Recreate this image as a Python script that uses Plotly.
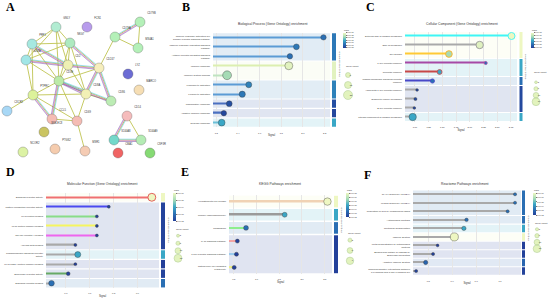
import math

import plotly.graph_objects as go
from plotly.colors import sample_colorscale

W, H = 550, 302
FONT = "Liberation Sans"
FDR_SCALE = [[0.0, "#233f99"], [0.25, "#2a6fb4"], [0.5, "#3aa7c6"],
             [0.75, "#a6dbb5"], [1.0, "#eef7c2"]]


def px(x):
    return x / W


def py(y):
    return 1 - y / H


# ── A: STRING network ────────────────────────────────────────────────────────
NODE_NAMES = ["GNLY", "FCN1", "CD79B", "CD79A", "MS4A1", "PRF1", "NKG7", "GZMA",
              "CD2", "CD247", "LYZ", "CD3E", "MARCO", "PTPRC", "CD8A", "CD86",
              "CXCR2", "CCL5", "CD69", "CD14", "SIGLEC8", "S100A8", "S100A9",
              "NCOR2", "PTGS2", "MSR1", "CMA1", "CSF3R"]
NODE_X = [56, 87, 140, 115, 138, 32, 70, 26, 68, 99, 128, 59, 139, 33, 86, 111,
          7, 52, 77, 127, 44, 114, 141, 23, 55, 85, 118, 150]
NODE_Y = [27, 27, 22, 37, 48, 44, 43, 60, 65, 68, 74, 81, 90, 95, 94, 101,
          111, 119, 121, 116, 132, 140, 140, 152, 149, 151, 153, 153]
EDGES = [("GNLY", "PRF1"), ("GNLY", "NKG7"), ("GNLY", "GZMA"), ("GNLY", "CD2"),
         ("GNLY", "CD3E"), ("PRF1", "NKG7"), ("PRF1", "GZMA"), ("PRF1", "CD2"),
         ("PRF1", "CD3E"), ("PRF1", "PTPRC"), ("NKG7", "GZMA"), ("NKG7", "CD2"),
         ("NKG7", "CD3E"), ("NKG7", "CD8A"), ("NKG7", "CD247"), ("GZMA", "CD2"),
         ("GZMA", "CD3E"), ("GZMA", "PTPRC"), ("CD2", "CD3E"), ("CD2", "CD247"),
         ("CD2", "CD8A"), ("CD247", "CD79A"), ("CD3E", "CD247"), ("CD3E", "CD8A"),
         ("CD3E", "CD86"), ("CD3E", "PTPRC"), ("CD3E", "CCL5"), ("CD3E", "CD69"),
         ("CD247", "CD8A"), ("CD247", "CD86"), ("CD79A", "CD79B"), ("CD79A", "MS4A1"),
         ("CD79B", "MS4A1"), ("CD8A", "CD86"), ("CD8A", "PTPRC"), ("CD8A", "CD69"),
         ("PTPRC", "CXCR2"), ("PTPRC", "CCL5"), ("PTPRC", "CD69"), ("CCL5", "CD69"),
         ("CD69", "MSR1"), ("CD14", "S100A8"), ("CD14", "S100A9"), ("S100A8", "S100A9")]
EDGES_MULTI = [("PRF1", "CD2"), ("GZMA", "CD2"), ("NKG7", "CD247"), ("CD2", "CD247"),
               ("CD3E", "CD8A"), ("CD247", "CD86"), ("CD3E", "CD86"), ("PTPRC", "CCL5"),
               ("CD3E", "CCL5"), ("CD79A", "CD79B"), ("S100A8", "S100A9"),
               ("CD14", "S100A8"), ("CD247", "CD8A")]

NODE_FILL = {"GNLY": "#b2ecd2", "FCN1": "#b89cec", "CD79B": "#b4f0b8", "CD79A": "#b4f0b8",
             "MS4A1": "#b4f0b8", "PRF1": "#a6e9e0", "NKG7": "#aeeac0", "GZMA": "#a2e6e6",
             "CD2": "#eef0b4", "CD247": "#f6eebc", "LYZ": "#6c6cd4", "CD3E": "#bceaa8",
             "MARCO": "#f6deb4", "PTPRC": "#dcf29a", "CD8A": "#f2f0b6", "CD86": "#bcecb4",
             "CXCR2": "#a8d8f6", "CCL5": "#f5bcb4", "CD69": "#f5bcb4", "CD14": "#f5bcbc",
             "SIGLEC8": "#cac462", "S100A8": "#74d8ca", "S100A9": "#b4ecb4",
             "NCOR2": "#dcf2a4", "PTGS2": "#f5ccae", "MSR1": "#f5ccb4", "CMA1": "#f06464",
             "CSF3R": "#86da74"}

# ── B: Biological Process ────────────────────────────────────────────────────
BP_TERMS = ["Immune response-activating cell<br>surface receptor signaling pathway",
            "Immune response-regulating signaling<br>pathway",
            "Antigen receptor-mediated signaling<br>pathway",
            "Immune response", "Immune system process", "Lymphocyte activation",
            "Leukocyte activation", "Inflammatory response", "Adaptive immune response",
            "Defense response"]
BP_SIGNAL = [2.19, 1.94, 1.88, 1.87, 1.30, 1.50, 1.44, 1.32, 1.27, 1.25]
BP_FDR = [1.0e-8, 3.2e-9, 1.0e-8, 3.2e-17, 1.0e-14, 1.0e-9, 3.2e-9, 1.0e-6, 3.2e-6, 1.0e-11]
BP_COUNT = [7, 9, 7, 20, 24, 10, 11, 9, 7, 14]
BP_GROUP = [0, 0, 0, 1, 1, 2, 2, 3, 4, 5]
BP_LEGEND = [5, 15, 25]

# ── C: Cellular Component ────────────────────────────────────────────────────
CC_TERMS = ["External side of plasma membrane", "Side of membrane", "Cell surface",
            "T cell receptor complex", "Receptor complex",
            "Plasma membrane signaling receptor<br>complex",
            "Alpha-beta T cell receptor complex", "Endocytic vesicle membrane",
            "B cell receptor complex", "Intrinsic component of plasma membrane"]
CC_SIGNAL = [2.76, 2.18, 1.62, 2.29, 1.45, 1.32, 1.04, 1.01, 0.99, 0.96]
CC_FDR = [1.0e-13, 3.2e-13, 3.2e-11, 3.2e-6, 1.0e-8, 3.2e-6, 4.0e-4, 3.2e-4, 5.0e-4, 1.0e-8]
CC_COUNT = [14, 15, 13, 3, 8, 6, 2, 3, 2, 15]
CC_GROUP = [0, 0, 0, 1, 1, 2, 3, 3, 3, 4]
CC_LEGEND = [2, 6, 10, 16]

# ── D: Molecular Function ────────────────────────────────────────────────────
MF_TERMS = ["Signaling receptor activity", "Pattern recognition receptor activity",
            "MHC protein binding", "MHC protein complex binding",
            "Toll-like receptor 4 binding", "Amyloid-beta binding",
            "Transmembrane signaling receptor<br>activity",
            "MHC class I protein complex binding", "Scavenger receptor activity",
            "Signaling receptor binding"]
MF_SIGNAL = [0.96, 0.78, 0.73, 0.73, 0.73, 0.64, 0.65, 0.64, 0.61, 0.54]
MF_FDR = [1.0e-6, 8.0e-3, 9.0e-3, 9.0e-3, 9.0e-3, 1.0e-2, 1.0e-4, 1.0e-2, 8.0e-3, 1.0e-3]
MF_COUNT = [15, 2, 2, 2, 2, 2, 10, 2, 4, 9]
MF_GROUP = [0, 1, 1, 1, 1, 1, 2, 3, 4, 5]
MF_LEGEND = [2, 5, 10, 15]

# ── E: KEGG ──────────────────────────────────────────────────────────────────
KG_TERMS = ["Hematopoietic cell lineage", "Primary immunodeficiency", "Phagosome",
            "IL-17 signaling pathway", "T cell receptor signaling pathway",
            "Natural killer cell mediated<br>cytotoxicity"]
KG_SIGNAL = [2.56, 1.62, 0.77, 0.58, 0.56, 0.51]
KG_FDR = [1.0e-8, 1.0e-5, 3.2e-4, 1.0e-2, 1.0e-2, 9.0e-3]
KG_COUNT = [7, 4, 4, 3, 3, 3]
KG_GROUP = [0, 1, 2, 3, 3, 3]
KG_LEGEND = [3, 5, 7]

# ── F: Reactome ──────────────────────────────────────────────────────────────
RE_TERMS = ["IRAK4 deficiency (TLR2/4)", "MyD88 deficiency (TLR2/4)",
            "Regulation of TLR by endogenous ligand", "Antimicrobial peptides",
            "Neutrophil degranulation", "Immune System",
            "Metal sequestration by antimicrobial<br>proteins",
            "Binding and Uptake of Ligands by<br>Scavenger Receptors",
            "Adaptive Immune System",
            "Immunoregulatory interactions between<br>a Lymphoid and a non-Lymphoid cell"]
RE_SIGNAL = [1.163, 1.163, 1.132, 0.96, 0.949, 0.909, 0.839, 0.82, 0.789, 0.749]
RE_FDR = [5.6e-4, 5.6e-4, 5.6e-4, 6.0e-4, 3.2e-5, 1.0e-7, 1.0e-2, 9.0e-3, 1.0e-3, 8.0e-3]
RE_COUNT = [3, 3, 3, 4, 6, 16, 2, 3, 6, 3]
RE_GROUP = [0, 0, 0, 1, 2, 3, 4, 5, 6, 7]
RE_LEGEND = [3, 6, 10, 15]

GRAY = "#a9a9a9"
DARK = "#3a3a3a"

PANELS = [
    dict(title="Biological Process (Gene Ontology) enrichment",
         terms=BP_TERMS, signal=BP_SIGNAL, fdr=BP_FDR, count=BP_COUNT,
         group=BP_GROUP, legend=BP_LEGEND, size=(4.0, 0.2),
         box=(213, 330, 32.6, 127.4), xr=[1.17, 2.25], tick0=1.2, dtick=0.2, fmt=".1f",
         strip=(332, 336), vt=(339.5, 64), cb=(343, 32.7, 47.3, 5, 17, [17, 15, 13, 11, 9, 7, 5]),
         leg=(348, 70, 100, 66), ttl=(273, 24), letter=("B", 186, 7),
         stem=["#5b9bd5", "#5b9bd5", "#5b9bd5", "#dcefb0", "#bfe4c0", "#5b9bd5",
               "#5b9bd5", "#4a6fc0", "#4a6fc0", "#6cc0d8"],
         outline=[DARK] * 10, olw=[0.4] * 10),
    dict(title="Cellular Component (Gene Ontology) enrichment",
         terms=CC_TERMS, signal=CC_SIGNAL, fdr=CC_FDR, count=CC_COUNT,
         group=CC_GROUP, legend=CC_LEGEND, size=(2.0, 0.36),
         box=(405, 517, 31.5, 121.5), xr=[0.82, 2.86], tick0=1.0, dtick=0.25, fmt=".2f",
         strip=(519.5, 522.5), vt=(526, 67), cb=(531, 32.7, 47.3, 3, 13, [13, 11, 9, 7, 5, 3]),
         leg=(536, 79, 105, 72), ttl=(462, 24), letter=("C", 370, 7),
         stem=["#3ff5f5", GRAY, "#ffc935", "#a648a6", "#c84848", "#4848c8",
               GRAY, GRAY, GRAY, GRAY],
         outline=["#3ff5f5", "#999999", "#ffb020", "#a648a6", "#c84848", "#4848c8",
                  DARK, DARK, DARK, DARK],
         olw=[0.9, 0.9, 0.9, 0.8, 0.8, 0.8, 0.4, 0.4, 0.4, 0.4]),
    dict(title="Molecular Function (Gene Ontology) enrichment",
         terms=MF_TERMS, signal=MF_SIGNAL, fdr=MF_FDR, count=MF_COUNT,
         group=MF_GROUP, legend=MF_LEGEND, size=(2.2, 0.38),
         box=(46, 159, 192.5, 288), xr=[0.517, 0.99], tick0=0.6, dtick=0.1, fmt=".1f",
         strip=(161, 165), vt=(168.5, 230), cb=(173, 193, 221, 2, 6, [6, 5, 4, 3, 2]),
         leg=(178, 232, 262, 229), ttl=(102, 184), letter=("D", 10, 172),
         stem=["#f07070", "#4a4af0", "#88dd88", "#f5f560", "#ee66ee", GRAY,
               GRAY, GRAY, "#66aa66", GRAY],
         outline=["#e05050"] + [DARK] * 9, olw=[0.9] + [0.4] * 9),
    dict(title="KEGG Pathways enrichment",
         terms=KG_TERMS, signal=KG_SIGNAL, fdr=KG_FDR, count=KG_COUNT,
         group=KG_GROUP, legend=KG_LEGEND, size=(1.5, 0.85),
         box=(229, 332, 195, 274), xr=[0.396, 2.66], tick0=0.5, dtick=0.5, fmt=".1f",
         strip=(334, 338), vt=(341.5, 221), cb=(346, 193, 217, 2, 8, [8, 7, 6, 5, 4, 3, 2]),
         leg=(350, 235, 266, 233), ttl=(280, 184), letter=("E", 185, 172),
         stem=["#f0d2b4", "#9a9a9a", "#8eee8e", "#f2a4a4", "#9cccee", "#eeee8a"],
         outline=[DARK] * 6, olw=[0.4] * 6),
    dict(title="Reactome Pathways enrichment",
         terms=RE_TERMS, signal=RE_SIGNAL, fdr=RE_FDR, count=RE_COUNT,
         group=RE_GROUP, legend=RE_LEGEND, size=(2.0, 0.38),
         box=(413, 521, 190, 275.3), xr=[0.736, 1.188], tick0=0.8, dtick=0.1, fmt=".1f",
         strip=(522, 525), vt=(528.5, 228), cb=(533, 193, 215, 2, 7, [7, 6, 5, 4, 3, 2]),
         leg=(537, 226, 252, 223), ttl=(465, 184), letter=("F", 367, 175),
         stem=[GRAY] * 10, outline=[DARK] * 10, olw=[0.4] * 10),
]

fig = go.Figure()
shapes, annots = [], []
layout = {}

# ── network drawing ──────────────────────────────────────────────────────────
pos = {n: (x, y) for n, x, y in zip(NODE_NAMES, NODE_X, NODE_Y)}


def edge_xy(pairs, offset=0.0):
    xs, ys = [], []
    for a, b in pairs:
        (x1, y1), (x2, y2) = pos[a], pos[b]
        ln = math.hypot(x2 - x1, y2 - y1)
        nx, ny = -(y2 - y1) / ln * offset, (x2 - x1) / ln * offset
        xs += [x1 + nx, x2 + nx, None]
        ys += [y1 + ny, y2 + ny, None]
    return xs, ys


for pairs, off, col, w in [(EDGES, 0.0, "#bfc452", 0.9),
                           (EDGES_MULTI, 0.8, "#d45ad4", 0.55),
                           (EDGES_MULTI, -0.8, "#4cc6e6", 0.55),
                           (EDGES_MULTI, 1.5, "#6a4a9a", 0.45)]:
    ex, ey = edge_xy(pairs, off)
    fig.add_trace(go.Scatter(x=ex, y=ey, mode="lines", line=dict(color=col, width=w),
                             hoverinfo="skip", showlegend=False, xaxis="x", yaxis="y"))

fig.add_trace(go.Scatter(
    x=NODE_X, y=NODE_Y, mode="markers+text", text=NODE_NAMES,
    textposition="top right", textfont=dict(size=2.6, color="#333", family=FONT),
    marker=dict(size=10, color=[NODE_FILL[n] for n in NODE_NAMES],
                line=dict(color="rgba(70,70,70,0.55)", width=0.5)),
    hoverinfo="text", showlegend=False, xaxis="x", yaxis="y"))

layout["xaxis"] = dict(domain=[0, px(180)], range=[0, 180], visible=False, fixedrange=True)
layout["yaxis"] = dict(domain=[py(160), py(8)], range=[160, 8], visible=False, fixedrange=True)
annots.append(dict(text="<b>A</b>", x=px(10), y=py(7),
                   font=dict(size=12, family="Liberation Serif", color="#000")))

# ── enrichment panels ────────────────────────────────────────────────────────
for k, p in enumerate(PANELS):
    n = 2 + 2 * k
    m = n + 1
    cax = "coloraxis" if k == 0 else f"coloraxis{k + 1}"
    cbx, cbt, cbb, cmin, cmax, cticks = p["cb"]
    a, b = p["size"]
    rows = list(range(len(p["terms"])))
    nlog = [-math.log10(f) for f in p["fdr"]]
    sizes = [a + b * c for c in p["count"]]

    # group shading + similarity strip
    for g in sorted(set(p["group"])):
        idx = [i for i in rows if p["group"][i] == g]
        best = max(nlog[i] for i in idx)
        col = sample_colorscale(FDR_SCALE, [(best - cmin) / (cmax - cmin)])[0]
        y0, y1 = min(idx) - 0.5 + 0.06, max(idx) + 0.5 - 0.06
        shapes.append(dict(type="rect", xref=f"x{n} domain", yref=f"y{n}", x0=0, x1=1,
                           y0=y0, y1=y1, fillcolor=col, opacity=0.14, line_width=0,
                           layer="below"))
        shapes.append(dict(type="rect", xref="paper", yref=f"y{n}", x0=px(p["strip"][0]),
                           x1=px(p["strip"][1]), y0=y0, y1=y1, fillcolor=col, line_width=0))

    fig.add_trace(go.Bar(x=p["signal"], y=rows, orientation="h", width=0.13,
                         marker=dict(color=p["stem"], line=dict(width=0)),
                         hoverinfo="skip", showlegend=False, xaxis=f"x{n}", yaxis=f"y{n}"))
    fig.add_trace(go.Scatter(
        x=p["signal"], y=rows, mode="markers", cliponaxis=False,
        marker=dict(size=sizes, color=nlog, coloraxis=cax,
                    line=dict(color=p["outline"], width=p["olw"]), opacity=1),
        text=[t.replace("<br>", " ") for t in p["terms"]],
        hovertemplate="%{text}<br>Signal %{x}<extra></extra>",
        showlegend=False, xaxis=f"x{n}", yaxis=f"y{n}"))

    x0, x1, y0, y1 = p["box"]
    layout[f"xaxis{n}"] = dict(
        domain=[px(x0), px(x1)], range=p["xr"], tick0=p["tick0"], dtick=p["dtick"],
        tickformat=p["fmt"], showgrid=True, gridcolor="#e6e6e6", gridwidth=0.5,
        zeroline=False, showline=False, ticks="outside", ticklen=2.5,
        tickcolor="rgba(0,0,0,0)", tickfont=dict(size=2.3, color="#333"),
        title=dict(text="Signal", font=dict(size=2.6, color="#333"), standoff=1),
        anchor=f"y{n}", automargin=False, fixedrange=True)
    layout[f"yaxis{n}"] = dict(
        domain=[py(y1), py(y0)], range=[len(rows) - 0.5, -0.5], tickvals=rows,
        ticktext=p["terms"], showgrid=False, zeroline=False, showline=False,
        ticks="", ticklabelstandoff=2, tickfont=dict(size=2.4, color="#333"),
        anchor=f"x{n}", automargin=False, fixedrange=True)

    layout[cax] = dict(
        colorscale=FDR_SCALE, cmin=cmin, cmax=cmax,
        colorbar=dict(x=px(cbx), xanchor="left", y=py(cbt), yanchor="top",
                      len=cbb - cbt, lenmode="pixels", thickness=3, thicknessmode="pixels",
                      xpad=0, ypad=0, outlinewidth=0, tickvals=cticks,
                      ticktext=[f"1.0e-{t:02d}" for t in cticks],
                      tickfont=dict(size=2.0, color="#333"), ticks="outside",
                      ticklen=1, tickwidth=0.4, tickcolor="#777"))
    annots.append(dict(text="FDR", x=px(cbx), y=py(cbt - 2.5), xanchor="left",
                       font=dict(size=2.4, color="#333")))

    # gene count legend
    lx, ly0, ly1, lty = p["leg"]
    lrows = list(range(len(p["legend"])))
    fig.add_trace(go.Scatter(
        x=[0] * len(lrows), y=lrows, mode="markers", cliponaxis=False,
        marker=dict(size=[a + b * c for c in p["legend"]], color="#d6eea2",
                    line=dict(color="#8db468", width=0.5)),
        hoverinfo="skip", showlegend=False, xaxis=f"x{m}", yaxis=f"y{m}"))
    fig.add_trace(go.Scatter(
        x=[0.6] * len(lrows), y=lrows, mode="text", text=[str(c) for c in p["legend"]],
        textposition="middle right", textfont=dict(size=2.2, color="#333"), cliponaxis=False,
        hoverinfo="skip", showlegend=False, xaxis=f"x{m}", yaxis=f"y{m}"))
    layout[f"xaxis{m}"] = dict(domain=[px(lx - 3), px(lx + 9)], range=[-1, 3],
                               visible=False, fixedrange=True, anchor=f"y{m}")
    layout[f"yaxis{m}"] = dict(domain=[py(ly1), py(ly0)], range=[len(lrows) - 0.5, -0.5],
                               visible=False, fixedrange=True, anchor=f"x{m}")
    annots.append(dict(text="Gene count", x=px(lx - 3), y=py(lty), xanchor="left",
                       font=dict(size=2.4, color="#333")))

    annots.append(dict(text="Groups of similarity \u2265 0.8", x=px(p["vt"][0]),
                       y=py(p["vt"][1]), textangle=90, font=dict(size=2.3, color="#333")))
    annots.append(dict(text=p["title"], x=px(p["ttl"][0]), y=py(p["ttl"][1]),
                       font=dict(size=3.3, color="#333")))
    letter, lxp, lyp = p["letter"]
    annots.append(dict(text=f"<b>{letter}</b>", x=px(lxp), y=py(lyp),
                       font=dict(size=12, family="Liberation Serif", color="#000")))

for an in annots:
    an.setdefault("xref", "paper")
    an.setdefault("yref", "paper")
    an.setdefault("xanchor", "center")
    an.setdefault("yanchor", "middle")
    an.setdefault("showarrow", False)
    an.setdefault("borderpad", 0)

fig.update_layout(
    width=W, height=H, margin=dict(l=0, r=0, t=0, b=0),
    paper_bgcolor="white", plot_bgcolor="white",
    font=dict(family=FONT, color="#333"),
    showlegend=False, shapes=shapes, annotations=annots, **layout,
)

# the page body keeps its default 8px margin otherwise
fig.write_html("out.html", config={"displayModeBar": False},
               post_script="document.body.style.margin='0';")
